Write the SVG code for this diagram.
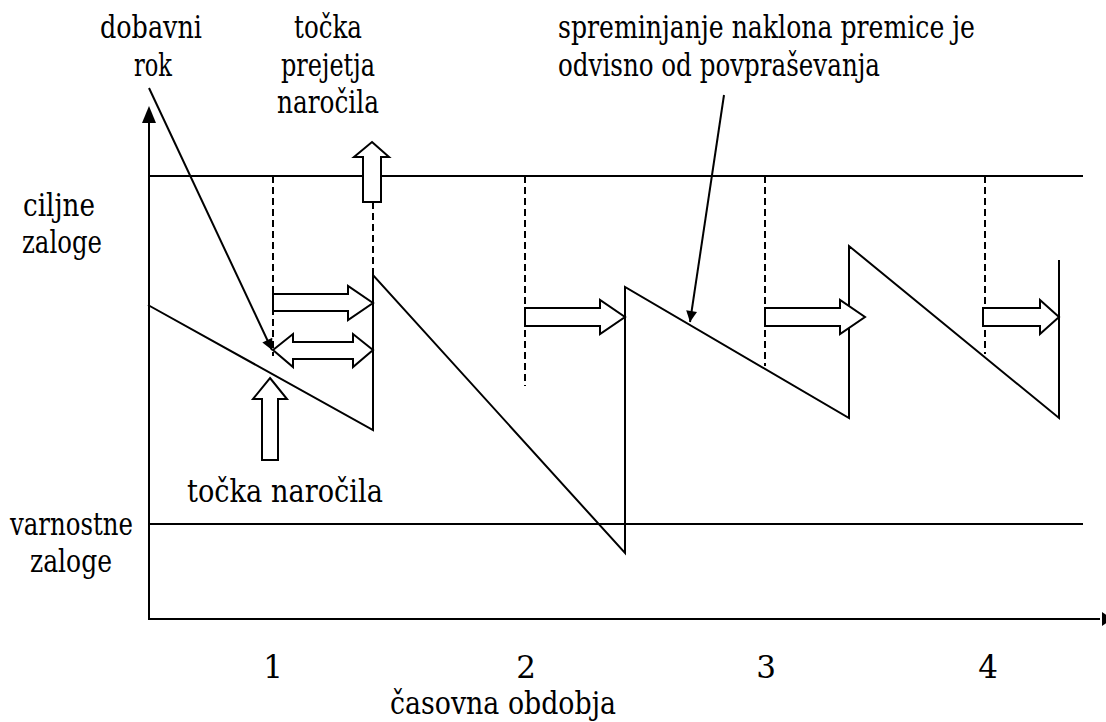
<svg xmlns="http://www.w3.org/2000/svg" width="1106" height="722" viewBox="0 0 1106 722">
  <defs>
    <style>
      .t { font-family: "DejaVu Serif", serif; font-size: 31px; fill: #000; }
      .m { text-anchor: middle; }
      .ln { stroke: #000; stroke-width: 2; fill: none; }
      .dash { stroke: #000; stroke-width: 2; fill: none; stroke-dasharray: 7 4; }
      .blk { fill: #fff; stroke: #000; stroke-width: 2; stroke-linejoin: miter; }
    </style>
    <marker id="head" viewBox="0 0 10 10" refX="10" refY="5" markerWidth="15" markerHeight="11" markerUnits="userSpaceOnUse" orient="auto">
      <path d="M0,0 L10,5 L0,10 Z" fill="#000"/>
    </marker>
  </defs>
  <rect width="1106" height="722" fill="#fff"/>

  <!-- axes -->
  <g id="axes">
    <line class="ln" x1="149" y1="620" x2="149" y2="120"/>
    <polygon points="149,106 142,123 156,123" fill="#000"/>
    <line class="ln" x1="149" y1="619" x2="1100" y2="619"/>
    <polygon points="1112,619 1102,612 1102,626" fill="#000"/>
  </g>

  <!-- target and safety stock levels -->
  <g id="levels">
    <line class="ln" x1="149" y1="176" x2="1083" y2="176"/>
    <line class="ln" x1="149" y1="524" x2="1083" y2="524"/>
  </g>

  <!-- order points (dashed) -->
  <g id="order-marks">
    <line class="dash" x1="273" y1="176" x2="273" y2="356"/>
    <line class="dash" x1="373" y1="202" x2="373" y2="275"/>
    <line class="dash" x1="525" y1="176" x2="525" y2="386"/>
    <line class="dash" x1="765" y1="176" x2="765" y2="366"/>
    <line class="dash" x1="985" y1="176" x2="985" y2="354"/>
  </g>

  <!-- stock level sawtooth -->
  <g id="stock">
    <polyline class="ln" points="148,305 373,430 373,275 625,553 625,287 849,418 849,246 1059,418 1059,260"/>
  </g>

  <!-- lead-time block arrows -->
  <g id="lead-arrows">
    <polygon class="blk" points="273,294 348,294 348,286 373,303 348,320 348,311 273,311"/>
    <polygon class="blk" points="273,350 293,334 293,342 353,342 353,334 373,350 353,367 353,359 293,359 293,367"/>
    <polygon class="blk" points="525,308 600,308 600,300 625,317 600,334 600,326 525,326"/>
    <polygon class="blk" points="765,308 840,308 840,300 865,317 840,334 840,326 765,326"/>
    <polygon class="blk" points="983,308 1040,308 1040,300 1059,317 1040,334 1040,326 983,326"/>
  </g>

  <!-- order point / receipt point markers -->
  <g id="order-point">
    <polygon class="blk" points="270,378 287,399 278,399 278,460 262,460 262,399 253,399"/>
  </g>
  <g id="receipt-point">
    <polygon class="blk" points="372,142 389,157 381,157 381,202 363,202 363,157 354,157"/>
  </g>

  <!-- label pointers -->
  <g id="connectors">
    <line class="ln" x1="149" y1="88" x2="272" y2="350" marker-end="url(#head)"/>
    <line class="ln" x1="724" y1="95" x2="690" y2="322" marker-end="url(#head)"/>
  </g>

  <!-- labels (widths fitted per line) -->
  <g id="label-lead-time">
    <text class="t" x="100" y="38" textLength="102" lengthAdjust="spacingAndGlyphs">dobavni</text>
    <text class="t" x="134" y="76" textLength="38" lengthAdjust="spacingAndGlyphs">rok</text>
  </g>
  <g id="label-receipt">
    <text class="t" x="294" y="38" textLength="68" lengthAdjust="spacingAndGlyphs">točka</text>
    <text class="t" x="281" y="76" textLength="94" lengthAdjust="spacingAndGlyphs">prejetja</text>
    <text class="t" x="277" y="113" textLength="102" lengthAdjust="spacingAndGlyphs">naročila</text>
  </g>
  <g id="label-slope">
    <text class="t" x="558" y="38" textLength="417" lengthAdjust="spacingAndGlyphs">spreminjanje naklona premice je</text>
    <text class="t" x="558" y="76" textLength="322" lengthAdjust="spacingAndGlyphs">odvisno od povpraševanja</text>
  </g>
  <g id="label-target">
    <text class="t" x="23" y="216" textLength="72" lengthAdjust="spacingAndGlyphs">ciljne</text>
    <text class="t" x="22" y="253" textLength="80" lengthAdjust="spacingAndGlyphs">zaloge</text>
  </g>
  <g id="label-safety">
    <text class="t" x="10" y="535" textLength="123" lengthAdjust="spacingAndGlyphs">varnostne</text>
    <text class="t" x="30" y="572" textLength="82" lengthAdjust="spacingAndGlyphs">zaloge</text>
  </g>
  <g id="label-order-point">
    <text class="t" x="187" y="502" textLength="196" lengthAdjust="spacingAndGlyphs">točka naročila</text>
  </g>
  <g id="label-periods">
    <text class="t m" x="273" y="678">1</text>
    <text class="t m" x="526" y="678">2</text>
    <text class="t m" x="766" y="678">3</text>
    <text class="t m" x="988" y="678">4</text>
    <text class="t" x="390" y="714" textLength="226" lengthAdjust="spacingAndGlyphs">časovna obdobja</text>
  </g>
</svg>
